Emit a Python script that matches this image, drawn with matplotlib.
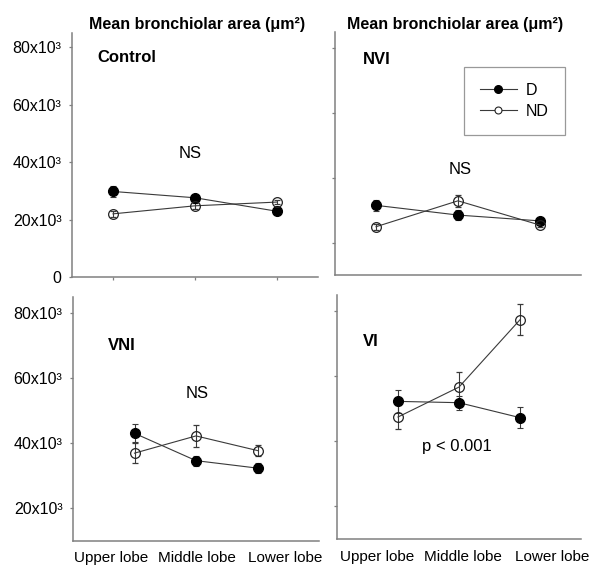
#----Modules----#
import matplotlib
matplotlib.use('Agg')
import matplotlib.pyplot as plt
from matplotlib.lines import Line2D

plt.rcParams['font.family'] = ['Liberation Sans', 'DejaVu Sans']

#----Data (mean bronchiolar area, um^2)----#
lobes = ['Upper lobe', 'Middle lobe', 'Lower lobe']

control_D = [29800, 27600, 22900]
control_D_err = [2000, 1100, 800]
control_ND = [22000, 24800, 26100]
control_ND_err = [1000, 1000, 800]

nvi_D = [31500, 28500, 26700]
nvi_D_err = [1800, 1500, 700]
nvi_ND = [24900, 32900, 25400]
nvi_ND_err = [900, 1800, 700]

vni_D = [43100, 34700, 32400]
vni_D_err = [2800, 1500, 1500]
vni_ND = [37000, 42300, 37800]
vni_ND_err = [3000, 3300, 1800]

vi_D = [52300, 51900, 47300]
vi_D_err = [3600, 2200, 3200]
vi_ND = [47500, 56700, 77400]
vi_ND_err = [3600, 4600, 4800]

top_ticks = [0, 20000, 40000, 60000, 80000]
top_ticklabels = ['0', '20x10³', '40x10³', '60x10³', '80x10³']
bottom_ticks = [20000, 40000, 60000, 80000]
bottom_ticklabels = ['20x10³', '40x10³', '60x10³', '80x10³']

W, H = 600, 581
GRAY = '#808080'
LINE = '#3a3a3a'


def px(x, y):
    # pixel position -> figure fraction
    return x / W, 1 - y / H


def axes_at(fig, x0, y0, x1, y1):
    return fig.add_axes([x0 / W, 1 - y1 / H, (x1 - x0) / W, (y1 - y0) / H])


def style_axes(ax):
    for s in ['top', 'right']:
        ax.spines[s].set_visible(False)
    for s in ['left', 'bottom']:
        ax.spines[s].set_color(GRAY)
        ax.spines[s].set_linewidth(1.1)
    ax.tick_params(axis='y', direction='out', length=2.5, width=0.9, color=GRAY,
                   labelsize=11.5, pad=5)
    ax.tick_params(axis='x', direction='out', length=2.5, width=0.9, color=GRAY)


def draw_series(ax, xs, D, D_err, ND, ND_err):
    ax.errorbar(xs, D, yerr=D_err, color=LINE, lw=0.8, elinewidth=0.8, capsize=2.4,
                capthick=0.8, marker='o', ms=7, mfc='black', mec='black', zorder=3)
    ax.errorbar(xs, ND, yerr=ND_err, color=LINE, lw=0.8, elinewidth=0.8, capsize=2.4,
                capthick=0.8, marker='o', ms=7, mfc='none', mec='#222222', mew=0.9, zorder=3)


fig = plt.figure(figsize=(W / 100, H / 100), dpi=100)

#----Control (top left)----#
ax1 = axes_at(fig, 72, 33, 318, 277)
style_axes(ax1)
draw_series(ax1, [0, 1, 2], control_D, control_D_err, control_ND, control_ND_err)
ax1.set_xlim(-0.5, 2.5)
ax1.set_ylim(0, 85000)
ax1.set_yticks(top_ticks)
ax1.set_yticklabels(top_ticklabels)
ax1.set_xticks([0, 1, 2])
ax1.set_xticklabels([])

#----NVI (top right)----#
ax2 = axes_at(fig, 335, 32, 581, 275)
style_axes(ax2)
draw_series(ax2, [0, 1, 2], nvi_D, nvi_D_err, nvi_ND, nvi_ND_err)
ax2.set_xlim(-0.5, 2.5)
ax2.set_ylim(10000, 85000)
ax2.set_yticks(bottom_ticks)
ax2.set_yticklabels([])
ax2.set_xticks([])

handles = [
    Line2D([], [], color=LINE, lw=0.8, marker='o', ms=5.5, mfc='black', mec='black'),
    Line2D([], [], color=LINE, lw=0.8, marker='o', ms=5, mfc='white', mec='#222222', mew=0.8),
]
leg = ax2.legend(handles, ['D', 'ND'], loc='upper left', bbox_to_anchor=(0.524, 0.856),
                 frameon=True, fancybox=False, edgecolor=GRAY, fontsize=11.5,
                 handlelength=2.3, handletextpad=0.6, borderpad=1.0, labelspacing=0.35,
                 borderaxespad=0)
leg.get_frame().set_linewidth(0.9)

#----VNI (bottom left)----#
ax3 = axes_at(fig, 73, 297, 319, 541)
style_axes(ax3)
draw_series(ax3, [0, 1, 2], vni_D, vni_D_err, vni_ND, vni_ND_err)
ax3.set_xlim(-1, 3)
ax3.set_ylim(10000, 85000)
ax3.set_yticks(bottom_ticks)
ax3.set_yticklabels(bottom_ticklabels)
ax3.set_xticks([-0.38, 1.01, 2.45])
ax3.set_xticklabels(lobes, fontsize=11)
ax3.tick_params(axis='x', length=0, pad=7)

#----VI (bottom right)----#
ax4 = axes_at(fig, 337, 295, 581, 539)
style_axes(ax4)
draw_series(ax4, [0, 1, 2], vi_D, vi_D_err, vi_ND, vi_ND_err)
ax4.set_xlim(-1, 3)
ax4.set_ylim(10000, 85000)
ax4.set_yticks(bottom_ticks)
ax4.set_yticklabels([])
ax4.set_xticks([-0.34, 1.07, 2.52])
ax4.set_xticklabels(lobes, fontsize=11)
ax4.tick_params(axis='x', length=0, pad=8)

#----Titles and annotations----#
title = 'Mean bronchiolar area (μm²)'
fig.text(*px(197, 25), title, ha='center', va='center', fontsize=11.5, fontweight='bold')
fig.text(*px(455, 25), title, ha='center', va='center', fontsize=11.5, fontweight='bold')

fig.text(*px(97, 58), 'Control', ha='left', va='center', fontsize=12, fontweight='bold')
fig.text(*px(363, 59), 'NVI', ha='left', va='center', fontsize=12, fontweight='bold')
fig.text(*px(108, 346), 'VNI', ha='left', va='center', fontsize=12, fontweight='bold')
fig.text(*px(363, 342), 'VI', ha='left', va='center', fontsize=12, fontweight='bold')

fig.text(*px(190, 154), 'NS', ha='center', va='center', fontsize=12)
fig.text(*px(460, 169), 'NS', ha='center', va='center', fontsize=12)
fig.text(*px(197, 394), 'NS', ha='center', va='center', fontsize=12)
fig.text(*px(457, 447), 'p < 0.001', ha='center', va='center', fontsize=12)

fig.savefig('out.png', dpi=100, facecolor='white')
